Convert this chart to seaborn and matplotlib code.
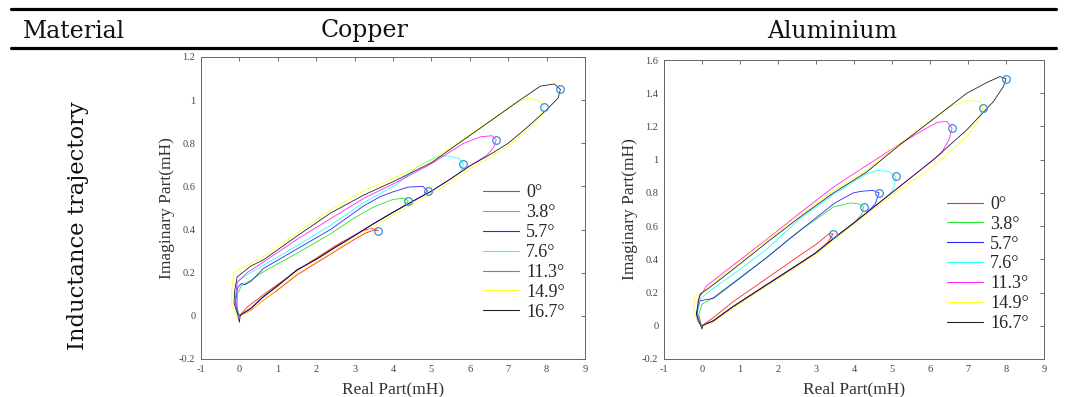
import matplotlib
matplotlib.use("Agg")
import numpy as np
import pandas as pd
import seaborn as sns
import matplotlib.pyplot as plt
from matplotlib.lines import Line2D
from matplotlib.ticker import FuncFormatter, MultipleLocator

# ---------------- data ----------------
ANGLES = ["0°", "3.8°", "5.7°", "7.6°", "11.3°", "14.9°", "16.7°"]
COLORS = ["#ff0000", "#00e000", "#0000ff", "#00ffff", "#ff00ff", "#ffff00", "#000000"]
MATERIALS = ["Copper", "Aluminium"]

# Copper trajectories (closed loops: lower branch out to the tip, upper branch back)
CU_00_X = [0, 0.3, 0.6, 1.0, 1.5, 2.0, 2.5, 3.0, 3.3, 3.5, 3.62, 3.45, 3.2, 2.5, 1.5, 0.6, 0.2, 0.0]
CU_00_Y = [0, 0.025, 0.07, 0.12, 0.19, 0.245, 0.30, 0.355, 0.385, 0.397, 0.395, 0.405, 0.395, 0.325, 0.21, 0.095, 0.04, 0.0]
CU_38_X = [0, 0.3, 0.6, 1.0, 1.5, 2.0, 2.5, 3.0, 3.5, 4.0, 4.3, 4.40, 4.3, 4.0, 3.5, 3.0, 2.37, 1.5, 0.63, 0.3, 0.05, -0.05, -0.06, 0]
CU_38_Y = [0, 0.035, 0.085, 0.14, 0.213, 0.262, 0.318, 0.372, 0.428, 0.48, 0.512, 0.533, 0.545, 0.54, 0.505, 0.455, 0.38, 0.29, 0.205, 0.165, 0.14, 0.10, 0.04, 0]
CU_57_X = [0, 0.3, 0.6, 1.0, 1.5, 2.0, 2.5, 3.0, 3.5, 4.0, 4.5, 4.8, 4.90, 4.78, 4.4, 4.0, 3.67, 3.24, 2.37, 1.5, 0.63, 0.3, 0.15, 0.05, -0.05, -0.1, -0.05, 0]
CU_57_Y = [0, 0.035, 0.085, 0.14, 0.213, 0.262, 0.318, 0.372, 0.428, 0.48, 0.53, 0.56, 0.58, 0.60, 0.597, 0.575, 0.553, 0.51, 0.40, 0.31, 0.22, 0.16, 0.145, 0.15, 0.13, 0.06, 0.015, 0]
CU_76_X = [0, 0.3, 0.6, 1.0, 1.5, 2.0, 2.5, 3.0, 3.5, 4.0, 4.5, 5.0, 5.5, 5.7, 5.8, 5.83, 5.72, 5.4, 5.1, 4.63, 4.1, 3.24, 2.37, 1.5, 0.63, 0.2, -0.05, -0.1, -0.05, 0]
CU_76_Y = [0, 0.035, 0.085, 0.14, 0.213, 0.262, 0.318, 0.372, 0.428, 0.48, 0.53, 0.578, 0.635, 0.66, 0.68, 0.705, 0.73, 0.742, 0.735, 0.69, 0.61, 0.525, 0.42, 0.325, 0.235, 0.19, 0.16, 0.08, 0.02, 0]
CU_113_X = [0, 0.3, 0.6, 1.0, 1.5, 2.0, 2.5, 3.0, 3.5, 4.0, 4.5, 5.0, 5.5, 6.0, 6.45, 6.62, 6.69, 6.58, 6.28, 5.84, 5.0, 4.1, 3.24, 2.37, 1.5, 0.63, 0.2, -0.06, -0.1, -0.05, 0]
CU_113_Y = [0, 0.035, 0.085, 0.14, 0.213, 0.262, 0.318, 0.372, 0.428, 0.48, 0.53, 0.578, 0.635, 0.695, 0.745, 0.78, 0.816, 0.835, 0.83, 0.80, 0.705, 0.62, 0.545, 0.45, 0.355, 0.25, 0.20, 0.155, 0.08, 0.02, 0]
CU_149_X = [0, 0.3, 0.6, 1.0, 1.5, 2.0, 2.5, 3.0, 3.5, 4.0, 4.5, 5.0, 5.5, 6.0, 6.5, 7.0, 7.5, 7.75, 7.9, 7.92, 7.8, 7.5, 7.0, 6.7, 5.84, 5.0, 4.1, 3.24, 2.37, 1.5, 0.63, 0.2, -0.15, -0.2, -0.2, -0.08, 0]
CU_149_Y = [0, 0.025, 0.07, 0.125, 0.20, 0.25, 0.305, 0.36, 0.415, 0.467, 0.517, 0.565, 0.62, 0.68, 0.73, 0.787, 0.86, 0.90, 0.935, 0.97, 1.0, 1.01, 0.965, 0.925, 0.82, 0.72, 0.645, 0.58, 0.49, 0.385, 0.275, 0.235, 0.20, 0.12, 0.05, 0.005, 0]
CU_167_X = [0, 0.3, 0.6, 1.0, 1.5, 2.0, 2.5, 3.0, 3.5, 4.0, 4.5, 5.0, 5.5, 6.0, 6.5, 7.0, 7.5, 8.0, 8.3, 8.36, 8.2, 7.84, 7.3, 6.71, 5.84, 5.0, 4.1, 3.24, 2.37, 1.5, 0.63, 0.29, -0.06, -0.12, -0.14, -0.05, 0, 0.02]
CU_167_Y = [0, 0.035, 0.085, 0.14, 0.213, 0.262, 0.318, 0.372, 0.428, 0.48, 0.53, 0.578, 0.635, 0.695, 0.745, 0.80, 0.875, 0.955, 1.01, 1.05, 1.075, 1.065, 1.0, 0.925, 0.816, 0.71, 0.63, 0.56, 0.476, 0.37, 0.26, 0.23, 0.18, 0.12, 0.06, 0.01, -0.03, 0]
CU_TIP_X = [3.62, 4.40, 4.90, 5.83, 6.69, 7.92, 8.36]
CU_TIP_Y = [0.395, 0.533, 0.58, 0.705, 0.816, 0.97, 1.052]

# Aluminium trajectories
AL_00_X = [0, 0.3, 0.82, 1.7, 2.58, 3.0, 3.3, 3.45, 3.35, 3.0, 2.58, 1.7, 0.82, 0.3, 0]
AL_00_Y = [0, 0.03, 0.115, 0.245, 0.375, 0.44, 0.50, 0.553, 0.555, 0.49, 0.425, 0.285, 0.145, 0.05, 0]
AL_38_X = [0, 0.3, 0.82, 1.7, 2.58, 3.0, 3.46, 4.0, 4.2, 4.26, 4.1, 3.9, 3.46, 3.0, 2.58, 1.7, 0.82, 0.3, 0.0, -0.08, -0.03, 0]
AL_38_Y = [0, 0.03, 0.116, 0.247, 0.377, 0.44, 0.525, 0.62, 0.67, 0.717, 0.735, 0.74, 0.715, 0.64, 0.575, 0.41, 0.26, 0.17, 0.13, 0.07, 0.01, 0]
AL_57_X = [0, 0.3, 0.82, 1.7, 2.58, 3.0, 3.46, 4.0, 4.33, 4.55, 4.66, 4.5, 4.2, 3.98, 3.5, 3.0, 2.23, 1.7, 0.82, 0.3, 0.05, -0.05, -0.14, -0.12, 0]
AL_57_Y = [0, 0.03, 0.116, 0.247, 0.377, 0.44, 0.525, 0.62, 0.68, 0.73, 0.80, 0.815, 0.81, 0.80, 0.74, 0.65, 0.51, 0.41, 0.255, 0.165, 0.155, 0.15, 0.08, 0.03, 0]
AL_76_X = [0, 0.3, 0.82, 1.7, 2.58, 3.0, 3.46, 4.0, 4.33, 4.9, 5.05, 5.1, 4.9, 4.6, 4.33, 3.8, 3.46, 2.58, 1.7, 0.82, 0.2, -0.05, -0.12, -0.03, 0]
AL_76_Y = [0, 0.03, 0.116, 0.247, 0.377, 0.44, 0.525, 0.62, 0.68, 0.784, 0.83, 0.90, 0.93, 0.935, 0.915, 0.84, 0.79, 0.645, 0.46, 0.31, 0.21, 0.16, 0.08, 0.01, 0]
AL_113_X = [0, 0.3, 0.82, 1.7, 2.58, 3.0, 3.46, 4.0, 4.33, 5.21, 6.09, 6.3, 6.5, 6.58, 6.44, 6.2, 5.91, 5.21, 4.33, 3.46, 2.58, 1.7, 0.82, 0.12, -0.1, -0.12, -0.03, 0]
AL_113_Y = [0, 0.03, 0.116, 0.247, 0.377, 0.44, 0.525, 0.62, 0.68, 0.84, 1.0, 1.04, 1.12, 1.19, 1.23, 1.225, 1.19, 1.095, 0.965, 0.835, 0.68, 0.52, 0.365, 0.24, 0.16, 0.07, 0.01, 0]
AL_149_X = [0, 0.3, 0.82, 1.7, 2.58, 3.0, 3.46, 4.0, 4.33, 5.21, 6.09, 6.97, 7.3, 7.39, 7.32, 6.97, 6.53, 6.09, 5.21, 4.33, 3.46, 2.58, 1.7, 0.82, 0.0, -0.2, -0.22, -0.08, 0]
AL_149_Y = [0, 0.02, 0.106, 0.237, 0.367, 0.43, 0.515, 0.61, 0.67, 0.82, 0.96, 1.14, 1.24, 1.31, 1.35, 1.355, 1.32, 1.245, 1.10, 0.935, 0.815, 0.67, 0.515, 0.355, 0.20, 0.17, 0.08, 0.01, 0]
AL_167_X = [0, 0.3, 0.82, 1.7, 2.58, 3.0, 3.46, 4.0, 4.33, 5.21, 6.09, 6.97, 7.67, 7.93, 8.0, 7.84, 7.5, 6.97, 6.09, 5.21, 4.33, 3.46, 2.58, 1.7, 0.82, 0.2, -0.05, -0.1, -0.15, -0.05, 0, 0.02]
AL_167_Y = [0, 0.03, 0.116, 0.247, 0.377, 0.44, 0.525, 0.62, 0.68, 0.84, 1.0, 1.18, 1.35, 1.44, 1.487, 1.50, 1.465, 1.40, 1.245, 1.09, 0.925, 0.80, 0.655, 0.50, 0.34, 0.23, 0.19, 0.14, 0.07, 0.01, -0.02, 0]
AL_TIP_X = [3.45, 4.26, 4.66, 5.10, 6.58, 7.39, 8.00]
AL_TIP_Y = [0.553, 0.717, 0.80, 0.90, 1.19, 1.31, 1.487]

CU_LOOPS = [(CU_00_X, CU_00_Y), (CU_38_X, CU_38_Y), (CU_57_X, CU_57_Y), (CU_76_X, CU_76_Y),
            (CU_113_X, CU_113_Y), (CU_149_X, CU_149_Y), (CU_167_X, CU_167_Y)]
AL_LOOPS = [(AL_00_X, AL_00_Y), (AL_38_X, AL_38_Y), (AL_57_X, AL_57_Y), (AL_76_X, AL_76_Y),
            (AL_113_X, AL_113_Y), (AL_149_X, AL_149_Y), (AL_167_X, AL_167_Y)]

X_TICKS = list(range(-1, 10))
CU_Y_TICKS = [-0.2, 0, 0.2, 0.4, 0.6, 0.8, 1.0, 1.2]
AL_Y_TICKS = [-0.2, 0, 0.2, 0.4, 0.6, 0.8, 1.0, 1.2, 1.4, 1.6]


def frame(loops):
    rows = []
    for ang, (xs, ys) in zip(ANGLES, loops):
        for i, (x, y) in enumerate(zip(xs, ys)):
            rows.append({"x": x, "y": y, "angle": ang, "seq": i})
    return pd.DataFrame(rows)


# ---------------- style ----------------
sns.set_theme(style="white")
plt.rcParams["font.family"] = ["Liberation Serif", "DejaVu Serif"]
plt.rcParams["axes.unicode_minus"] = False

W, H = 1068, 397
fig = plt.figure(figsize=(W / 100, H / 100), dpi=100)


def fx(px):
    return px / W


def fy(py):
    return 1 - py / H


# table rules
fig.add_artist(Line2D([fx(11), fx(1056)], [fy(8.5), fy(8.5)], color="black", lw=2.3))
fig.add_artist(Line2D([fx(11), fx(1056)], [fy(47.5), fy(47.5)], color="black", lw=2.3))

hdr = dict(family=["DejaVu Serif"], fontsize=17, color="#111111", va="baseline")
fig.text(fx(23), fy(37.5), "Material", ha="left", **hdr)
fig.text(fx(365), fy(37.5), "Copper", ha="center", **hdr)
fig.text(fx(832), fy(37.5), "Aluminium", ha="center", **hdr)
fig.text(fx(78), fy(226), "Inductance trajectory", ha="center", va="center", rotation=90,
         family=["DejaVu Serif"], fontsize=16.3, color="#111111")

palette = dict(zip(ANGLES, COLORS))
fmt = FuncFormatter(lambda v, p: ("%g" % round(v, 6)))

panels = [
    (CU_LOOPS, CU_TIP_X, CU_TIP_Y, CU_Y_TICKS, (201, 57, 585, 359), (483, 252.5)),
    (AL_LOOPS, AL_TIP_X, AL_TIP_Y, AL_Y_TICKS, (664, 60, 1044, 359), (947, 264)),
]

for loops, tx, ty, yt, (l, t, r, b), (lgx, lgy) in panels:
    ax = fig.add_axes([fx(l), fy(b), (r - l) / W, (b - t) / H])
    df = frame(loops)
    sns.lineplot(data=df, x="x", y="y", hue="angle", palette=palette, sort=False,
                 estimator=None, lw=0.6, alpha=0.85, legend=False, ax=ax)
    ax.plot(tx, ty, "o", mfc="none", mec="#3b8fd4", ms=5.5, mew=0.9, zorder=5)
    ax.set_xlim(-1, 9)
    ax.set_ylim(yt[0], yt[-1])
    ax.set_xticks(X_TICKS)
    ax.set_yticks(yt)
    ax.xaxis.set_major_formatter(fmt)
    ax.yaxis.set_major_formatter(fmt)
    ax.tick_params(direction="in", length=3, width=0.6, top=True, right=True,
                   labelsize=7.5, labelcolor="#444444", color="#555555", pad=4)
    for s in ax.spines.values():
        s.set_color("#666666")
        s.set_linewidth(0.7)
    ax.set_xlabel("Real Part(mH)", fontsize=12.5, color="#333333", labelpad=6)
    ax.set_ylabel("Imaginary Part(mH)", fontsize=12.5, color="#333333", labelpad=3)
    ax.grid(False)
    handles = [Line2D([], [], color=c, lw=0.8, alpha=0.85) for c in COLORS]
    ax.legend(handles, ANGLES, frameon=False, loc="center left",
              bbox_to_anchor=((lgx - l) / (r - l), (b - lgy) / (b - t)),
              fontsize=13, handlelength=2.0, handletextpad=0.4, labelspacing=0.16,
              borderpad=0, borderaxespad=0)

fig.savefig("out.png", dpi=100)
